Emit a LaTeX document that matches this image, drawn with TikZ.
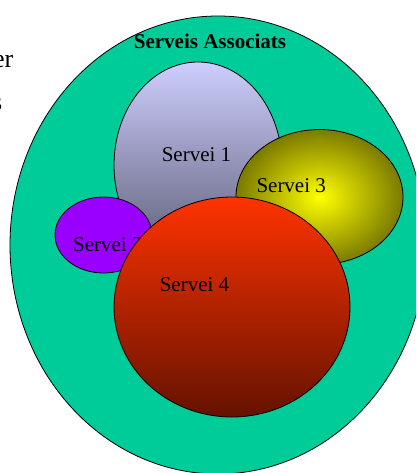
\documentclass[tikz,border=0pt]{standalone}
\usepackage{fontspec}
\setmainfont{Liberation Serif}
\usepackage{tikz}
\usetikzlibrary{shapes.geometric, positioning, calc}
\definecolor{assocgreen}{RGB}{0,204,153}
\definecolor{lilatop}{RGB}{206,206,255}
\definecolor{lilabottom}{RGB}{88,88,112}
\definecolor{grocinner}{RGB}{255,255,0}
\definecolor{grocouter}{RGB}{122,122,0}
\definecolor{liladark}{RGB}{153,0,255}
\definecolor{vermelltop}{RGB}{255,51,0}
\definecolor{vermellbottom}{RGB}{100,18,0}

\begin{document}
\begin{tikzpicture}[x=1pt, y=-1pt]
        \def\lw{0.8}
        \def\labelsize{\fontsize{21}{25}\selectfont}
        \def\fragsize{\fontsize{26}{30}\selectfont}
        \clip (0,0) rectangle (416,473);

        % text tallat a l'esquerra
        \node(frag1) [anchor=base east, inner sep=0pt, font=\fragsize] at (13.5,68) {er};
        \node(frag2) [anchor=base east, inner sep=0pt, font=\fragsize] at (2.5,111) {s};

        \node(assoc) [ellipse, draw, line width = \lw pt, fill=assocgreen, minimum width = 416pt, minimum height = 458pt, inner sep=0pt] at (218,245) {};
        \node(title) [font=\bfseries\labelsize] at ($(assoc) + (-8,-203.5)$) {Serveis Associats};

        \node(serv1) [ellipse, draw, line width = \lw pt, top color=lilatop, bottom color=lilabottom, minimum width = 168pt, minimum height = 206pt, inner sep=0pt] at (198,165) {};
        \node(lab1) [font=\labelsize] at ($(serv1) + (-1.5,-10)$) {Servei 1};

        \node(serv3) [ellipse, draw, line width = \lw pt, inner color=grocinner, outer color=grocouter, minimum width = 167pt, minimum height = 135pt, inner sep=0pt] at (319.5,197) {};
        \node(lab3) [font=\labelsize] at ($(serv3) + (-28.3,-11)$) {Servei 3};

        \node(serv2) [ellipse, draw, line width = \lw pt, fill=liladark, minimum width = 97pt, minimum height = 76pt, inner sep=0pt] at (103.5,235) {};
        \node(lab2) [font=\labelsize] at ($(serv2) + (4.3,10)$) {Servei 2};

        \node(serv4) [ellipse, draw, line width = \lw pt, top color=vermelltop, bottom color=vermellbottom, minimum width = 236pt, minimum height = 220pt, inner sep=0pt] at (232,307) {};
        \node(lab4) [font=\labelsize] at ($(serv4) + (-37.5,-22.5)$) {Servei 4};
    \end{tikzpicture}
\end{document}
